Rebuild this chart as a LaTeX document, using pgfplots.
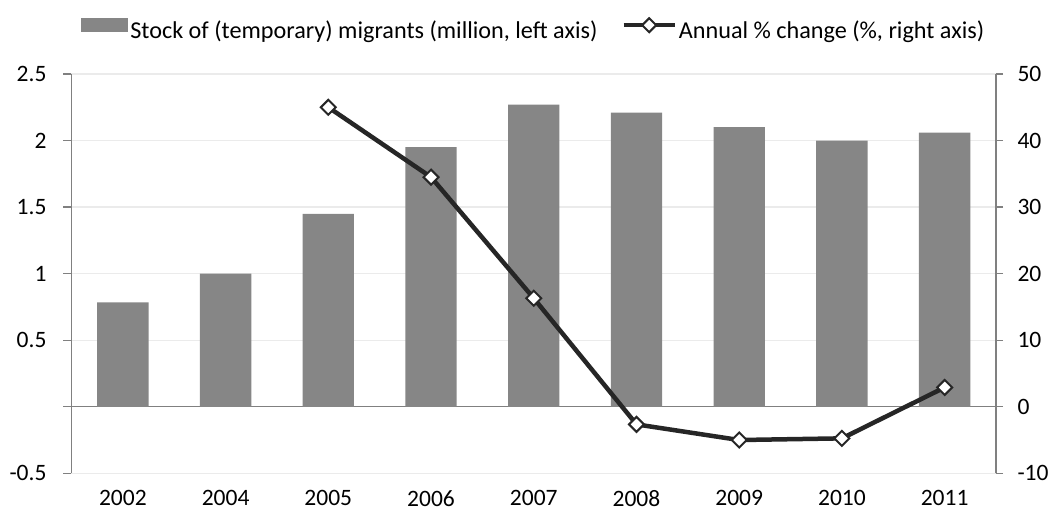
\documentclass[border=0pt]{standalone}
\usepackage{fontspec}
\setmainfont{Carlito}
\usepackage{pgfplots}
\pgfplotsset{compat=1.18}
\definecolor{barc}{HTML}{868686}
\definecolor{linec}{HTML}{262626}
\definecolor{gridc}{HTML}{EBEBEB}
\definecolor{axc}{HTML}{808080}
\pgfplotsset{
  barleg/.style={legend image code/.code={\fill[barc] (0pt,-1pt) rectangle (47pt,13.5pt);}},
  lineleg/.style={legend image code/.code={\draw[linec, line width=4.5pt] (0pt,6pt) -- (51pt,6pt);
    \draw[linec, line width=2pt, fill=white] (25.5pt,-1pt) -- (32.5pt,6pt) -- (25.5pt,13pt) -- (18.5pt,6pt) -- cycle;}},
}
\begin{document}
\fontsize{23.5}{28}\selectfont
\begin{tikzpicture}
\path[use as bounding box] (-71.5pt,-40.7pt) rectangle (979.5pt,473.3pt);
\begin{axis}[
  at={(0pt,0pt)}, anchor=south west, scale only axis,
  width=924.5pt, height=399.3pt,
  xmin=-0.5, xmax=8.5, ymin=-0.5, ymax=2.5,
  xtick={0,...,8},
  xticklabels={2002,2004,2005,2006,2007,2008,2009,2010,2011},
  ytick={-0.5,0,0.5,1,1.5,2,2.5},
  yticklabels={-0.5,,0.5,1,1.5,2,2.5},
  axis y line*=left, axis x line*=bottom,
  x axis line style={draw=none},
  major x tick style={draw=none},
  y axis line style={axc, line width=1.3pt},
  major y tick style={axc, line width=1.3pt},
  tick align=outside, major tick length=8pt,
  ymajorgrids, grid style={gridc, line width=1.3pt},
  extra y ticks={0}, extra y tick labels={},
  extra y tick style={grid style={axc, line width=1.3pt}},
  xticklabel style={yshift=-8pt, inner sep=1pt},
  yticklabel style={xshift=-9pt},
  bar width=0.5,
  legend style={at={(0.5,1)}, anchor=south, yshift=30pt,
    draw=none, fill=none, legend columns=2, inner sep=0pt,
    /tikz/every even column/.append style={column sep=22pt},
    font=\fontsize{24.2}{28}\selectfont},
  legend cell align=left,
]
\addplot[ybar, fill=barc, draw=none, barleg]
  coordinates {(0,0.785)(1,1.0)(2,1.45)(3,1.95)(4,2.27)(5,2.21)(6,2.10)(7,2.0)(8,2.06)};
\addlegendentry{Stock of (temporary) migrants (million, left axis)}
\addlegendimage{lineleg}
\addlegendentry{Annual \% change (\%, right axis)}
\end{axis}
\begin{axis}[
  at={(0pt,0pt)}, anchor=south west, scale only axis,
  width=924.5pt, height=399.3pt,
  xmin=-0.5, xmax=8.5, ymin=-10, ymax=50,
  axis y line*=right, axis x line=none,
  ytick={-10,0,10,20,30,40,50},
  yticklabels={-10,0,10,20,30,40,50},
  y axis line style={axc, line width=1.3pt},
  major y tick style={axc, line width=1.3pt},
  tick align=outside, major tick length=7pt,
  yticklabel style={xshift=6.5pt},
]
\addplot[linec, line width=4.5pt, mark=square*, mark size=5.3pt,
  mark options={rotate=45, fill=white, draw=linec, line width=2pt}]
  coordinates {(2,45.0)(3,34.5)(4,16.3)(5,-2.65)(6,-5.0)(7,-4.75)(8,2.9)};
\end{axis}
\end{tikzpicture}
\end{document}
